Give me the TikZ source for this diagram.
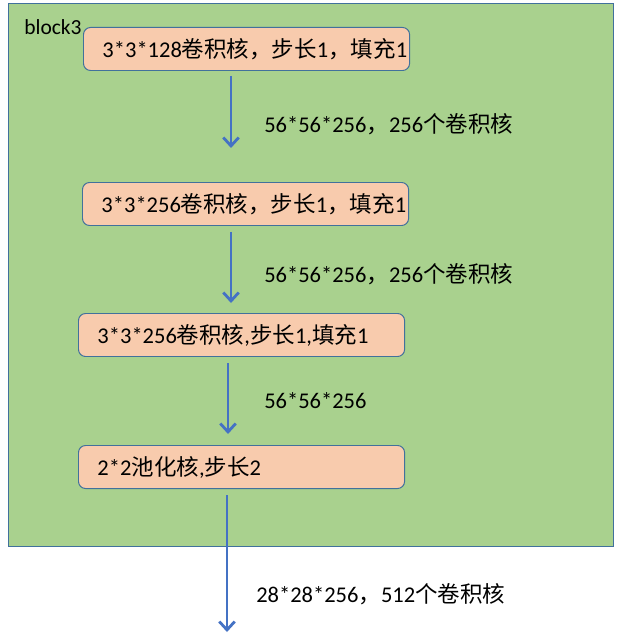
\documentclass[tikz,border=0pt]{standalone}
\usepackage{fontspec}
\setmainfont{Carlito}
\newfontfamily\cjk{Noto Sans CJK SC}
\usepackage{tikz}
\usetikzlibrary{arrows.meta, positioning}
\usepackage{xcolor}

\definecolor{blockgreen}{HTML}{A9D18E}
\definecolor{boxfill}{HTML}{F8CBAD}
\definecolor{boxline}{HTML}{41719C}
\definecolor{arrowblue}{HTML}{4472C4}

\tikzset{
  layerbox/.style={draw=boxline, fill=boxfill, line width=0.7pt, rounded corners=5pt,
    anchor=north west, inner xsep=0.475cm, inner ysep=0pt,
    minimum height=1.075cm},
  flow/.style={draw=arrowblue, line width=2pt, -{Straight Barb[length=6pt,width=11pt]}},
  sizelabel/.style={anchor=west, inner sep=0pt}
}

\begin{document}
\begin{tikzpicture}[x=0.025cm, y=-0.025cm, font=\fontsize{16}{19}\selectfont]

\useasboundingbox (0,0) rectangle (624,637);

% block background
\filldraw [fill=blockgreen, draw=boxline, line width=0.7pt] (8,3) rectangle (613,546);
\node[sizelabel, font=\fontsize{15.3}{18}\selectfont] (blockname) at (24,27) {block3};

% layers
\node[layerbox] (conv1) at (83,27) {\makebox[7.2cm][l]{3*3*128{\cjk 卷积核，步长}1{\cjk ，填充}1}};
\node[layerbox] (conv2) at (82,182) {\makebox[7.2cm][l]{3*3*256{\cjk 卷积核，步长}1{\cjk ，填充}1}};
\node[layerbox] (conv3) at (78,313) {\makebox[7.2cm][l]{3*3*256{\cjk 卷积核}{,}{\cjk 步长}1{,}{\cjk 填充}1}};
\node[layerbox] (pool) at (78,445) {\makebox[7.2cm][l]{2*2{\cjk 池化核}{,}{\cjk 步长}2}};

\coordinate (out) at (227,632);

% arrows
\draw[flow, shorten <=0.125cm, shorten >=0.85cm] (conv1.south -| 231,0) -- (conv2.north -| 231,0);
\draw[flow, shorten <=0.15cm, shorten >=0.25cm] (conv2.south -| 231,0) -- (conv3.north -| 231,0);
\draw[flow, shorten <=0.15cm, shorten >=0.275cm] (conv3.south -| 228,0) -- (pool.north -| 228,0);
\draw[flow, shorten <=0.15cm] (pool.south -| 227,0) -- (out);

% sizes
\node[sizelabel] (size1) at (264,124) {56*56*256{\cjk ，}256{\cjk 个卷积核}};
\node[sizelabel] (size2) at (264,274) {56*56*256{\cjk ，}256{\cjk 个卷积核}};
\node[sizelabel] (size3) at (264,401) {56*56*256};
\node[sizelabel] (size4) at (256,594) {28*28*256{\cjk ，}512{\cjk 个卷积核}};

\end{tikzpicture}
\end{document}
